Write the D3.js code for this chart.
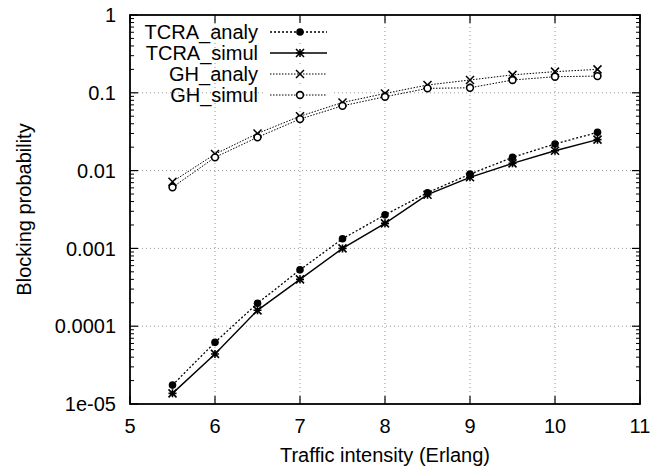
<!DOCTYPE html>
<html>
<head>
<meta charset="utf-8">
<script src="https://cdn.jsdelivr.net/npm/d3@7"></script>
<style>
  body { margin: 0; background: white; }
  text { font-family: "Liberation Sans", Arial, sans-serif; fill: #000; }
</style>
</head>
<body>
<svg id="chart"></svg>
<script>
const traffic = [5.5, 6, 6.5, 7, 7.5, 8, 8.5, 9, 9.5, 10, 10.5];
const tcraAnaly = [1.75e-5, 6.2e-5, 1.97e-4, 5.3e-4, 1.33e-3, 2.7e-3, 5.2e-3, 9.0e-3, 1.48e-2, 2.2e-2, 3.1e-2];
const tcraSimul = [1.37e-5, 4.4e-5, 1.6e-4, 4.0e-4, 1.0e-3, 2.1e-3, 4.9e-3, 8.2e-3, 1.24e-2, 1.8e-2, 2.5e-2];
const ghAnaly = [7.2e-3, 1.63e-2, 3.0e-2, 5.0e-2, 7.5e-2, 0.098, 0.126, 0.146, 0.17, 0.187, 0.2];
const ghSimul = [6.1e-3, 1.48e-2, 2.68e-2, 4.6e-2, 6.8e-2, 0.089, 0.114, 0.116, 0.146, 0.161, 0.164];
const seriesNames = ["TCRA_analy", "TCRA_simul", "GH_analy", "GH_simul"];
const xTicks = [5, 6, 7, 8, 9, 10, 11];
const yTicks = [1, 0.1, 0.01, 0.001, 0.0001, 1e-5];
const yTickLabels = ["1", "0.1", "0.01", "0.001", "0.0001", "1e-05"];

const width = 651, height = 469;
const margin = { top: 15, right: 11, bottom: 65, left: 130 };
const innerW = width - margin.left - margin.right;
const innerH = height - margin.top - margin.bottom;

const svg = d3.select("#chart").attr("width", width).attr("height", height);
const g = svg.append("g").attr("transform", `translate(${margin.left},${margin.top})`);

const x = d3.scaleLinear().domain([5, 11]).range([0, innerW]);
const y = d3.scaleLog().domain([1e-5, 1]).range([innerH, 0]);

//grid
g.selectAll("line.gx")
    .data(xTicks.slice(1, -1))
    .enter().append("line")
    .attr("x1", d => x(d)).attr("x2", d => x(d))
    .attr("y1", 0).attr("y2", innerH)
    .style("stroke", "#999").style("stroke-width", 1).style("stroke-dasharray", "1,3");

g.selectAll("line.gy")
    .data(yTicks.slice(1, -1))
    .enter().append("line")
    .attr("y1", d => y(d)).attr("y2", d => y(d))
    .attr("x1", 0).attr("x2", innerW)
    .style("stroke", "#999").style("stroke-width", 1).style("stroke-dasharray", "1,3");

//minor ticks on log axis
const minor = [];
for (let e = -5; e < 0; e++) {
    for (let m = 2; m <= 9; m++) minor.push(m * Math.pow(10, e));
}
[0, innerW].forEach(side => {
    const dir = side === 0 ? 1 : -1;
    g.selectAll(null).data(minor).enter().append("line")
        .attr("x1", side).attr("x2", side + dir * 4)
        .attr("y1", d => y(d)).attr("y2", d => y(d))
        .style("stroke", "#000").style("stroke-width", 1);
    g.selectAll(null).data(yTicks).enter().append("line")
        .attr("x1", side).attr("x2", side + dir * 8)
        .attr("y1", d => y(d)).attr("y2", d => y(d))
        .style("stroke", "#000").style("stroke-width", 1.2);
});
[0, innerH].forEach(side => {
    const dir = side === 0 ? 1 : -1;
    g.selectAll(null).data(xTicks).enter().append("line")
        .attr("y1", side).attr("y2", side + dir * 8)
        .attr("x1", d => x(d)).attr("x2", d => x(d))
        .style("stroke", "#000").style("stroke-width", 1.2);
});

//frame
g.append("rect")
    .attr("width", innerW).attr("height", innerH)
    .style("fill", "none").style("stroke", "#000").style("stroke-width", 1.8);

//tick labels
g.selectAll("text.xt").data(xTicks).enter().append("text")
    .attr("x", d => x(d)).attr("y", innerH + 29)
    .attr("text-anchor", "middle")
    .style("font-size", "20px")
    .text(d => d);

g.selectAll("text.yt").data(yTicks).enter().append("text")
    .attr("x", -14).attr("y", d => y(d))
    .attr("dy", "0.36em")
    .attr("text-anchor", "end")
    .style("font-size", "20px")
    .text((d, i) => yTickLabels[i]);

//axis titles
g.append("text")
    .attr("x", innerW / 2).attr("y", innerH + 58)
    .attr("text-anchor", "middle")
    .style("font-size", "20px")
    .text("Traffic intensity (Erlang)");

g.append("text")
    .attr("transform", `translate(${-99},${innerH / 2}) rotate(-90)`)
    .attr("text-anchor", "middle")
    .style("font-size", "20px")
    .text("Blocking probability");

//series
const series = [
    { name: seriesNames[0], values: tcraAnaly, dash: "2,2", width: 1.3, marker: "dot" },
    { name: seriesNames[1], values: tcraSimul, dash: null, width: 1.4, marker: "star" },
    { name: seriesNames[2], values: ghAnaly, dash: "1.5,1.5", width: 1, marker: "cross" },
    { name: seriesNames[3], values: ghSimul, dash: "1.5,1.5", width: 1, marker: "circle" }
];

const line = d3.line().x(d => x(d[0])).y(d => y(d[1]));

function drawMarker(sel, type, cx, cy) {
    if (type === "dot") {
        sel.append("circle").attr("cx", cx).attr("cy", cy).attr("r", 3.8)
            .style("fill", "#000");
    } else if (type === "circle") {
        sel.append("circle").attr("cx", cx).attr("cy", cy).attr("r", 3.4)
            .style("fill", "white").style("stroke", "#000").style("stroke-width", 1.6);
    } else if (type === "cross") {
        const s = 4;
        sel.append("path")
            .attr("d", `M${cx - s},${cy - s}L${cx + s},${cy + s}M${cx - s},${cy + s}L${cx + s},${cy - s}`)
            .style("stroke", "#000").style("stroke-width", 1.5).style("fill", "none");
    } else if (type === "star") {
        const s = 4;
        sel.append("path")
            .attr("d", `M${cx - s},${cy - s}L${cx + s},${cy + s}M${cx - s},${cy + s}L${cx + s},${cy - s}M${cx - s},${cy}L${cx + s},${cy}M${cx},${cy - s}L${cx},${cy + s}`)
            .style("stroke", "#000").style("stroke-width", 1.6).style("fill", "none");
    }
}

series.forEach(s => {
    const pts = traffic.map((t, i) => [t, s.values[i]]);
    g.append("path")
        .datum(pts)
        .attr("d", line)
        .style("fill", "none")
        .style("stroke", "#000")
        .style("stroke-width", s.width)
        .style("stroke-dasharray", s.dash);
    const mg = g.append("g");
    pts.forEach(p => drawMarker(mg, s.marker, x(p[0]), y(p[1])));
});

//legend
const legend = g.append("g");
series.forEach((s, i) => {
    const ly = 17 + i * 21;
    legend.append("rect")
        .attr("x", 134).attr("y", ly - 9).attr("width", 70).attr("height", 18)
        .style("fill", "white");
    legend.append("text")
        .attr("x", 128).attr("y", ly)
        .attr("dy", "0.36em")
        .attr("text-anchor", "end")
        .style("font-size", "20px")
        .text(s.name);
    legend.append("line")
        .attr("x1", 140).attr("x2", 197)
        .attr("y1", ly).attr("y2", ly)
        .style("stroke", "#000")
        .style("stroke-width", s.width)
        .style("stroke-dasharray", s.dash);
    drawMarker(legend, s.marker, 170, ly);
});
</script>
</body>
</html>
